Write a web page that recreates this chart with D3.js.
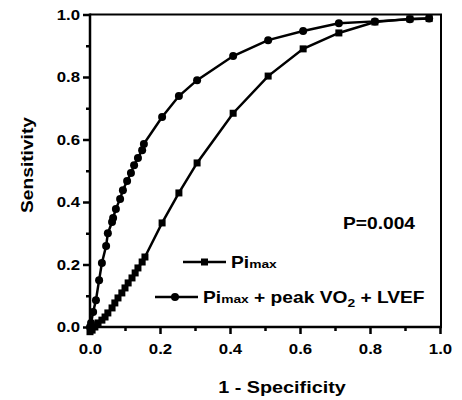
<!DOCTYPE html>
<html>
<head>
<meta charset="utf-8">
<script src="https://cdn.jsdelivr.net/npm/d3@7"></script>
<style>
  body { margin: 0; background: #fff; }
  svg text { font-family: "Liberation Sans", Arial, sans-serif; font-weight: bold; fill: #000; }
</style>
</head>
<body>
<svg width="462" height="400"></svg>
<script>
// ROC points
const pimaxX = [0.0, 0.006, 0.014, 0.023, 0.034, 0.043, 0.051, 0.063, 0.071, 0.08, 0.091, 0.1, 0.109, 0.12, 0.129, 0.137, 0.149, 0.157, 0.206, 0.254, 0.306, 0.409, 0.509, 0.609, 0.711, 0.814, 0.914, 0.969];
const pimaxY = [-0.015, -0.01, 0.0, 0.013, 0.022, 0.032, 0.045, 0.061, 0.077, 0.093, 0.109, 0.125, 0.141, 0.157, 0.173, 0.189, 0.208, 0.224, 0.333, 0.429, 0.525, 0.684, 0.803, 0.89, 0.941, 0.976, 0.986, 0.987];

const comboX = [0.0, 0.003, 0.009, 0.017, 0.026, 0.034, 0.046, 0.051, 0.063, 0.066, 0.074, 0.086, 0.094, 0.106, 0.117, 0.126, 0.137, 0.149, 0.154, 0.206, 0.254, 0.306, 0.409, 0.509, 0.609, 0.711, 0.814, 0.914, 0.969];
const comboY = [0.0, 0.013, 0.048, 0.086, 0.15, 0.205, 0.259, 0.30, 0.336, 0.349, 0.378, 0.41, 0.438, 0.467, 0.493, 0.518, 0.541, 0.566, 0.586, 0.672, 0.739, 0.79, 0.867, 0.918, 0.947, 0.972, 0.978, 0.985, 0.987];

const majorTicks = [0, 0.2, 0.4, 0.6, 0.8, 1.0];
const minorTicks = [0.1, 0.3, 0.5, 0.7, 0.9];

const svg = d3.select('svg');

const mLeft = 90, mRight = 440, mTop = 14.5, mBottom = 327;
const sx = 1.2; // type in the original is wide, stretch it a bit

const x = d3.scaleLinear().domain([0, 1]).range([mLeft, mRight]);
const y = d3.scaleLinear().domain([0, 1]).range([mBottom, mTop]);

// frame top + right
svg.append('path')
  .attr('d', `M${mLeft},${mTop}H${mRight + 1}V${mBottom}`)
  .attr('fill', 'none')
  .attr('stroke', '#000')
  .attr('stroke-width', 2);

// axes
const xAxis = svg.append('g')
  .attr('transform', `translate(0, ${mBottom})`)
  .call(d3.axisBottom(x).tickValues(majorTicks).tickFormat(d3.format('.1f')).tickSize(7).tickSizeOuter(0));
svg.append('g')
  .attr('transform', `translate(0, ${mBottom})`)
  .call(d3.axisBottom(x).tickValues(minorTicks).tickFormat('').tickSize(4).tickSizeOuter(0))
  .select('.domain').remove();

const yAxis = svg.append('g')
  .attr('transform', `translate(${mLeft}, 0)`)
  .call(d3.axisLeft(y).tickValues(majorTicks).tickFormat(d3.format('.1f')).tickSize(7).tickSizeOuter(0));
svg.append('g')
  .attr('transform', `translate(${mLeft}, 0)`)
  .call(d3.axisLeft(y).tickValues(minorTicks).tickFormat('').tickSize(4).tickSizeOuter(0))
  .select('.domain').remove();

svg.selectAll('.domain').attr('stroke-width', 2.5);
svg.selectAll('.tick line').attr('stroke-width', 2.5);
xAxis.selectAll('.domain').attr('d', `M${mLeft - 1},0H${mRight + 2}`);
yAxis.selectAll('.domain').attr('d', `M0,${mBottom + 1}V${mTop - 1}`);

xAxis.selectAll('text').attr('font-size', 14).attr('dy', '1.25em')
  .attr('transform', `scale(${sx},1)`);
yAxis.selectAll('text').attr('font-size', 14).attr('x', -10 / sx).attr('dy', '0.35em')
  .attr('transform', `scale(${sx},1)`);

// series
const line = d3.line().x(d => x(d[0])).y(d => y(d[1]));
const pimax = pimaxX.map((v, i) => [v, pimaxY[i]]);
const combo = comboX.map((v, i) => [v, comboY[i]]);

[pimax, combo].forEach(pts => {
  svg.append('path')
    .datum(pts)
    .attr('d', line)
    .attr('fill', 'none')
    .attr('stroke', '#000')
    .attr('stroke-width', 2.5);
});

svg.append('g').selectAll('rect')
  .data(pimax)
  .enter().append('rect')
  .attr('x', d => x(d[0]) - 3.5)
  .attr('y', d => y(d[1]) - 3.5)
  .attr('width', 7)
  .attr('height', 7)
  .attr('fill', '#000');

svg.append('g').selectAll('circle')
  .data(combo)
  .enter().append('circle')
  .attr('cx', d => x(d[0]))
  .attr('cy', d => y(d[1]))
  .attr('r', 4)
  .attr('fill', '#000');

// stretched text helper
function label(px, py, size, rot) {
  return svg.append('text')
    .attr('transform', `translate(${px},${py})${rot ? ' rotate(' + rot + ')' : ''} scale(${sx},1)`)
    .attr('font-size', size);
}

// legend
svg.append('line').attr('x1', 183).attr('x2', 226).attr('y1', 262).attr('y2', 262)
  .attr('stroke', '#000').attr('stroke-width', 2.5);
svg.append('rect').attr('x', 201).attr('y', 258.5).attr('width', 7).attr('height', 7);
const t1 = label(231, 268, 16);
t1.append('tspan').text('Pi');
t1.append('tspan').attr('font-size', 11.5).text('max');

svg.append('line').attr('x1', 155).attr('x2', 198).attr('y1', 297).attr('y2', 297)
  .attr('stroke', '#000').attr('stroke-width', 2.5);
svg.append('circle').attr('cx', 175).attr('cy', 297).attr('r', 4);
const t2 = label(203, 303, 16);
t2.append('tspan').text('Pi');
t2.append('tspan').attr('font-size', 11.5).text('max');
t2.append('tspan').text(' + peak VO');
t2.append('tspan').attr('font-size', 11.5).attr('dy', 4).text('2');
t2.append('tspan').attr('dy', -4).text(' + LVEF');

label(343, 229, 16).text('P=0.004');

// axis titles
label(33, 165, 16, -90).attr('text-anchor', 'middle').text('Sensitivity');
label(282, 393, 16.5).attr('text-anchor', 'middle').text('1 - Specificity');
</script>
</body>
</html>
